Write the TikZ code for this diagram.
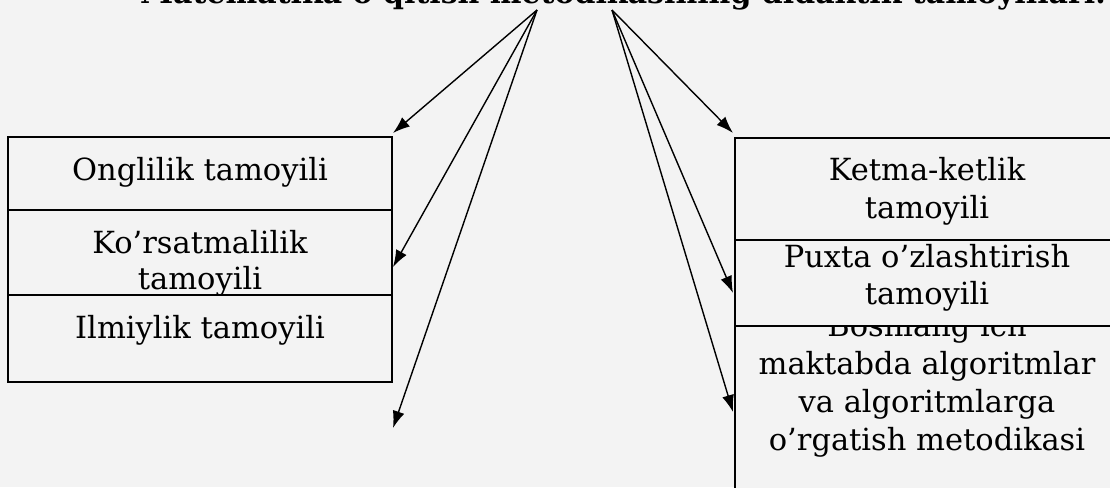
\documentclass[tikz,border=0pt]{standalone}
\usepackage{fontspec}
\setmainfont{DejaVu Serif}
\usetikzlibrary{arrows.meta}
\definecolor{paper}{HTML}{F3F3F3}
\begin{document}
\begin{tikzpicture}[x=1pt,y=-1pt,
  every node/.style={inner sep=0pt, outer sep=0pt},
  box/.style={draw=black, line width=1.6pt, fill=paper, anchor=north west},
  lbl/.style={font=\fontsize{30.5}{37.5}\selectfont, align=center, anchor=base},
  arr/.style={line width=1.4pt, -{Latex[length=17pt,width=12pt]}}]
\useasboundingbox (0,0) rectangle (1110,487);
\clip (0,0) rectangle (1110,487);
\fill[paper] (0,0) rectangle (1110,487);
\node[font=\bfseries\fontsize{30}{34}\selectfont, anchor=base west] (title) at (140,4) {Matematika o’qitish metodikasining didaktik tamoyillari.};
% left column
\node[box, minimum width=384pt, minimum height=73pt] (L1) at (8,137) {};
\node[lbl] (L1t) at (200,180) {Onglilik tamoyili};
\node[box, minimum width=384pt, minimum height=85pt] (L2) at (8,210) {};
\node[lbl, font=\fontsize{30.5}{36}\selectfont] (L2t) at (200,289) {Ko’rsatmalilik\\tamoyili};
\node[box, minimum width=384pt, minimum height=87pt] (L3) at (8,295) {};
\node[lbl] (L3t) at (200,338) {Ilmiylik tamoyili};
% right column
\node[box, minimum width=400pt, minimum height=180pt] (R3) at (735,326) {};
\node[lbl, font=\fontsize{30.5}{37.7}\selectfont] (R3t) at (927,450) {Boshlang’ich\\maktabda algoritmlar\\va algoritmlarga\\o’rgatish metodikasi};
\node[box, minimum width=400pt, minimum height=86pt] (R2) at (735,240) {};
\node[lbl, font=\fontsize{30.5}{37}\selectfont] (R2t) at (927,304) {Puxta o’zlashtirish\\tamoyili};
\node[box, minimum width=400pt, minimum height=102pt] (R1) at (735,138) {};
\node[lbl, font=\fontsize{30.5}{38}\selectfont] (R1t) at (927,218) {Ketma-ketlik\\tamoyili};
% arrows
\coordinate (apexL) at (537,10);
\coordinate (apexR) at (612,10);
\coordinate (tL1) at (393,133);
\coordinate (tL2) at (393,267);
\coordinate (tL3) at (393,428);
\coordinate (tR1) at (733,133);
\coordinate (tR2) at (733,293);
\coordinate (tR3) at (733,412);
\draw[arr] (apexL) -- (tL1);
\draw[arr] (apexL) -- (tL2);
\draw[arr] (apexL) -- (tL3);
\draw[arr] (apexR) -- (tR1);
\draw[arr] (apexR) -- (tR2);
\draw[arr] (apexR) -- (tR3);
\end{tikzpicture}
\end{document}
